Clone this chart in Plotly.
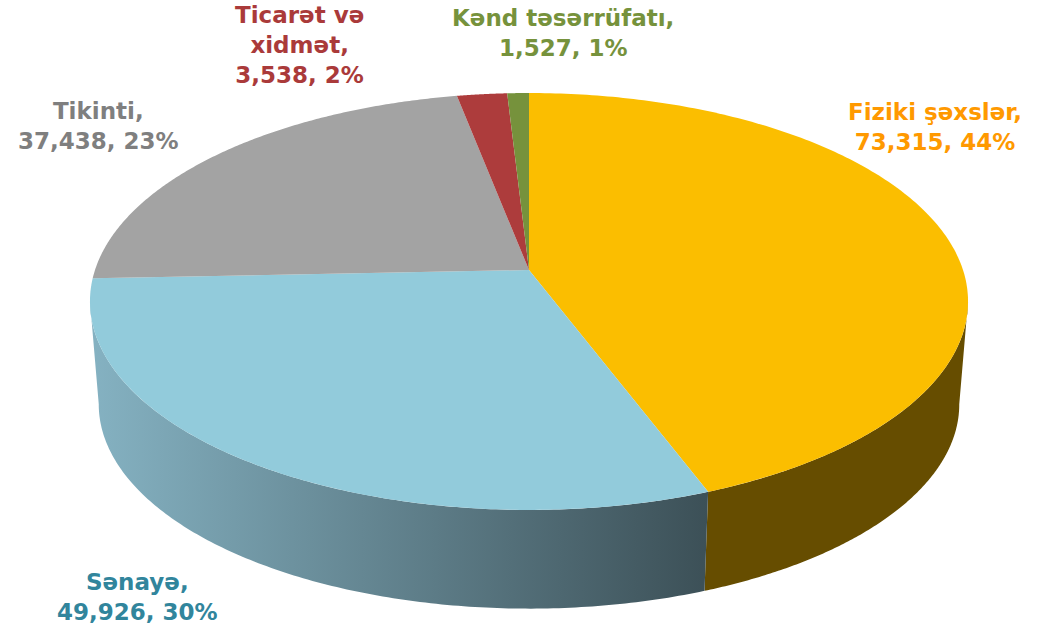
import numpy as np
import plotly.graph_objects as go

# Data
categories = ["Fiziki şəxslər", "Sənayə", "Tikinti", "Ticarət və<br>xidmət", "Kənd təsərrüfatı"]
values = [73315, 49926, 37438, 3538, 1527]
percents = [44, 30, 23, 2, 1]

# Style
top_colors = ["#FBBE00", "#92CBDB", "#A3A3A3", "#AD3C3C", "#76923C"]
text_colors = ["#FF9900", "#31859C", "#7F7F7F", "#AA3A3A", "#76923C"]
wall_yellow = "#664D00"
wall_blue_left, wall_blue_right = "#85B2C2", "#3C5057"
label_x = [935, 137, 98, 299, 563]
label_y = [127, 597, 126, 45, 33]
FONT = "DejaVu Sans"
FONT_SIZE = 23

# Perspective view of the pie disc
CX, CY, A, B, K = 529.0, 270.0, 434.0, 203.7, 0.151
BOTTOM_CY, BOTTOM_SCALE = 373.5, 0.98


def project(theta, top=True):
    u, v = np.sin(theta), np.cos(theta)
    w = 1 + K * v
    if top:
        return CX + A * u / w, CY - B * v / w
    return CX + BOTTOM_SCALE * A * u / w, BOTTOM_CY - BOTTOM_SCALE * B * v / w


total = sum(values)
edges = 2 * np.pi * np.cumsum([0] + values) / total
tangent_right = np.arccos(-K)
tangent_left = 2 * np.pi - tangent_right


def wall(t0, t1, **style):
    ts = np.linspace(t0, t1, 160)
    xt, yt = project(ts, True)
    xb, yb = project(ts[::-1], False)
    return go.Scatter(x=np.r_[xt, xb], y=np.r_[yt, yb], mode="none", fill="toself",
                      hoverinfo="skip", showlegend=False, **style)


fig = go.Figure()

# Side walls (only front-facing ones show)
fig.add_trace(wall(tangent_right, edges[1], fillcolor=wall_yellow))
fig.add_trace(wall(edges[1], tangent_left, fillgradient=dict(
    type="horizontal",
    colorscale=[[0, wall_blue_left], [1, wall_blue_right]],
)))

# Top faces
for i, name in enumerate(categories):
    ts = np.linspace(edges[i], edges[i + 1], 200)
    x, y = project(ts, True)
    fig.add_trace(go.Scatter(
        x=np.r_[CX, x, CX], y=np.r_[CY, y, CY], mode="none", fill="toself",
        fillcolor=top_colors[i], name=name.replace("<br>", " "), showlegend=False,
        hoverinfo="name",
    ))

# Labels
for i, name in enumerate(categories):
    fig.add_annotation(
        x=label_x[i], y=label_y[i], xref="x", yref="y", showarrow=False,
        text=f"<b>{name},<br>{values[i]:,}, {percents[i]}%</b>",
        font=dict(family=FONT, size=FONT_SIZE, color=text_colors[i]),
        align="center",
    )

fig.update_layout(
    width=1045, height=627, margin=dict(l=0, r=0, t=0, b=0),
    paper_bgcolor="white", plot_bgcolor="white", showlegend=False,
    xaxis=dict(range=[0, 1045], visible=False, fixedrange=True),
    yaxis=dict(range=[627, 0], visible=False, fixedrange=True),
)
fig.write_html("out.html", config={"displayModeBar": False},
               post_script="document.body.style.margin='0';document.body.style.overflow='hidden';")
